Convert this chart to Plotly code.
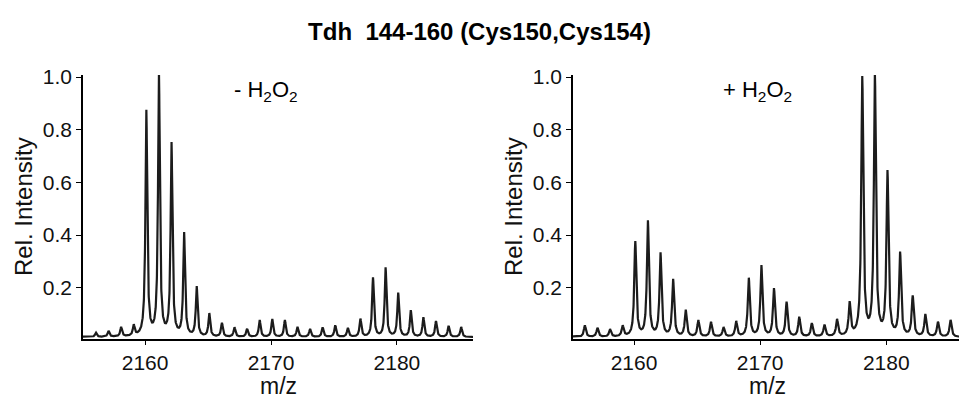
import numpy as np
import plotly.graph_objects as go

# ---- data (peak centres in m/z, relative intensities) ----
mz_peaks = [2156.1, 2157.1, 2158.1, 2159.1, 2160.1, 2161.1, 2162.1, 2163.1, 2164.1, 2165.1,
            2166.1, 2167.1, 2168.1, 2169.1, 2170.1, 2171.1, 2172.1, 2173.1, 2174.1, 2175.1,
            2176.1, 2177.1, 2178.1, 2179.1, 2180.1, 2181.1, 2182.1, 2183.1, 2184.1, 2185.1]

int_minus = [0.016, 0.022, 0.036, 0.040, 0.855, 0.995, 0.730, 0.390, 0.188, 0.088,
             0.052, 0.036, 0.030, 0.064, 0.068, 0.064, 0.038, 0.030, 0.036, 0.044,
             0.034, 0.068, 0.224, 0.262, 0.166, 0.100, 0.074, 0.060, 0.042, 0.038]

int_plus = [0.044, 0.034, 0.028, 0.040, 0.360, 0.437, 0.315, 0.216, 0.100, 0.062,
            0.056, 0.036, 0.058, 0.222, 0.270, 0.182, 0.131, 0.074, 0.050, 0.044,
            0.064, 0.124, 0.980, 0.990, 0.620, 0.315, 0.152, 0.084, 0.056, 0.064]

x_ticks = [2160, 2170, 2180]
y_ticks = [0.2, 0.4, 0.6, 0.8, 1.0]
y_tick_text = ["0.2", "0.4", "0.6", "0.8", "1.0"]

title_text = "<b>Tdh  144-160 (Cys150,Cys154)</b>"
panel_labels = ["- H<sub>2</sub>O<sub>2</sub>", "+ H<sub>2</sub>O<sub>2</sub>"]


def profile(centres, heights, width, base=0.012):
    """Render a stick list as a continuous spectrum trace (Lorentzian line shape)."""
    x = np.linspace(2154.5, 2186.5, 4000)
    y = np.full_like(x, base)
    for c, h in zip(centres, heights):
        y += h * width ** 2 / ((x - c) ** 2 + width ** 2)
    return x, y


W, H = 959, 400
ML, MR, MT, MB = 0, 0, 75, 61
PH = H - MT - MB


def px(xp):
    return xp / (W - ML - MR)


def py(yp):
    return (H - MB - yp) / PH


fig = go.Figure()
line_col = "#1c1c1c"
font_fam = "Liberation Sans, Arial, sans-serif"

xa, ya = profile(mz_peaks, int_minus, 0.085)
xb, yb = profile(mz_peaks, int_plus, 0.095)
fig.add_trace(go.Scatter(x=xa, y=ya, mode="lines", line=dict(color=line_col, width=2.2),
                         xaxis="x", yaxis="y", showlegend=False, hoverinfo="skip"))
fig.add_trace(go.Scatter(x=xb, y=yb, mode="lines", line=dict(color=line_col, width=2.2),
                         xaxis="x2", yaxis="y2", showlegend=False, hoverinfo="skip"))

axis_common = dict(showline=True, linecolor="black", linewidth=1.6, ticks="outside",
                   tickcolor="black", tickwidth=1.4, showgrid=False, zeroline=False,
                   tickfont=dict(family=font_fam, size=21, color="#111"))

fig.update_layout(
    width=W, height=H,
    margin=dict(l=ML, r=MR, t=MT, b=MB),
    paper_bgcolor="white", plot_bgcolor="white",
    xaxis=dict(domain=[px(83), px(473)], range=[2155.07, 2186.04], tickvals=x_ticks,
               ticklen=4, anchor="y", **axis_common),
    yaxis=dict(domain=[0, 1], range=[0.005, 1.008], tickvals=y_ticks, ticktext=y_tick_text,
               ticklen=5, anchor="x", **axis_common),
    xaxis2=dict(domain=[px(573), 1.0], range=[2155.16, 2185.77], tickvals=x_ticks,
                ticklen=4, anchor="y2", **axis_common),
    yaxis2=dict(domain=[0, 1], range=[0.005, 1.008], tickvals=y_ticks, ticktext=y_tick_text,
                ticklen=5, anchor="x2", **axis_common),
    title=dict(text=title_text, x=0.5, xanchor="center", xref="container",
               y=1 - 32 / H, yanchor="middle", yref="container",
               font=dict(family=font_fam, size=24, color="black")),
)

ann_font = dict(family=font_fam, size=24, color="#111")
annotations = [
    dict(text="Rel. Intensity", x=px(23), y=py(207), textangle=-90, font=ann_font,
         yanchor="middle"),
    dict(text="Rel. Intensity", x=px(513), y=py(207), textangle=-90, font=ann_font,
         yanchor="middle"),
    dict(text="m/z", x=px(278), y=py(400), font=dict(family=font_fam, size=23, color="#111"),
         yanchor="bottom", borderpad=0),
    dict(text="m/z", x=px(767), y=py(400), font=dict(family=font_fam, size=23, color="#111"),
         yanchor="bottom", borderpad=0),
    dict(text=panel_labels[0], x=px(266), y=py(91), font=dict(family=font_fam, size=22, color="black"),
         yanchor="middle"),
    dict(text=panel_labels[1], x=px(757), y=py(91), font=dict(family=font_fam, size=22, color="black"),
         yanchor="middle"),
]
for a in annotations:
    a.update(xref="paper", yref="paper", xanchor="center", showarrow=False)
fig.update_layout(annotations=annotations)

fig.write_html("out.html")
